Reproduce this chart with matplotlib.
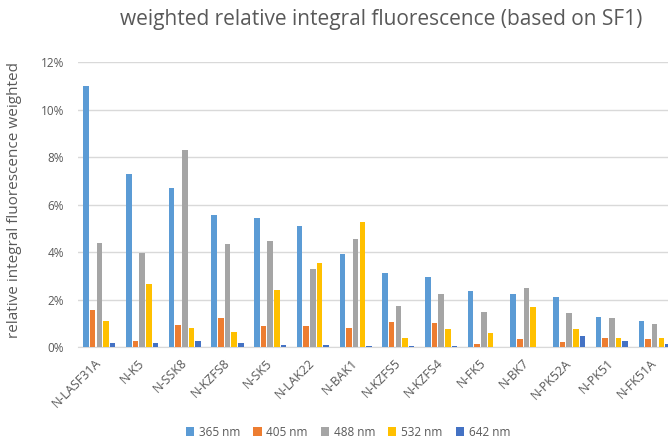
import matplotlib
matplotlib.use("Agg")
import matplotlib.pyplot as plt
import numpy as np
from matplotlib.ticker import FuncFormatter

categories = ["N-LASF31A", "N-K5", "N-SSK8", "N-KZFS8", "N-SK5", "N-LAK22", "N-BAK1",
              "N-KZFS5", "N-KZFS4", "N-FK5", "N-BK7", "N-PK52A", "N-PK51", "N-FK51A"]
series_names = ["365 nm", "405 nm", "488 nm", "532 nm", "642 nm"]
v365 = [11.0, 7.29, 6.72, 5.56, 5.44, 5.09, 3.91, 3.11, 2.95, 2.36, 2.23, 2.10, 1.28, 1.12]
v405 = [1.55, 0.25, 0.96, 1.22, 0.89, 0.90, 0.81, 1.08, 1.04, 0.13, 0.35, 0.22, 0.40, 0.35]
v488 = [4.39, 3.97, 8.31, 4.33, 4.46, 3.30, 4.55, 1.75, 2.24, 1.49, 2.50, 1.46, 1.25, 1.00]
v532 = [1.10, 2.67, 0.80, 0.66, 2.41, 3.56, 5.26, 0.39, 0.78, 0.59, 1.70, 0.78, 0.40, 0.39]
v642 = [0.19, 0.19, 0.25, 0.20, 0.08, 0.11, 0.07, 0.07, 0.04, 0.01, 0.03, 0.48, 0.28, 0.14]
colors = ["#5B9BD5", "#ED7D31", "#A5A5A5", "#FFC000", "#4472C4"]

plt.rcParams['font.family'] = ['Open Sans', 'DejaVu Sans']
txt = "#595959"

fig = plt.figure(figsize=(6.68, 4.41), dpi=100)
W, H = 668, 441
left, right = 78, 676
bottom_px, top_px = 347.3, 62.3
ax = fig.add_axes([left / W, (H - bottom_px) / H, (right - left) / W, (bottom_px - top_px) / H])

x = np.arange(len(categories))
pitch = 0.156
bw = 0.13
data = [v365, v405, v488, v532, v642]
for i, (vals, c, name) in enumerate(zip(data, colors, series_names)):
    ax.bar(x + (i - 2) * pitch, np.array(vals) / 100, width=bw, color=c, linewidth=0,
           label=name, zorder=3)

ax.set_xlim(-0.5, len(categories) - 0.5)
ax.set_ylim(0, 0.12)
ax.set_yticks(np.arange(0, 0.121, 0.02))
ax.yaxis.set_major_formatter(FuncFormatter(lambda v, p: f"{v*100:.0f}%"))
ax.grid(axis="y", color="#D9D9D9", linewidth=1.0, zorder=0)
for s in ["top", "right", "left"]:
    ax.spines[s].set_visible(False)
ax.spines["bottom"].set_color("#D9D9D9")
ax.tick_params(axis="both", length=0, colors=txt, labelsize=8.5)
ax.tick_params(axis="y", pad=10)
ax.set_xticks(x)
ax.set_xticklabels(categories, rotation=45, ha="right", va="center", rotation_mode="anchor")
ax.tick_params(axis="x", pad=10, labelsize=9)

fig.text(15 / W, 1 - 200 / H, "relative integral fluorescence weighted", rotation=90,
         ha="center", va="center", fontsize=11, color=txt)
fig.text(381 / W, 1 - 20 / H, "weighted relative integral fluorescence (based on SF1)",
         ha="center", va="center", fontsize=15, color=txt)

fig.legend(loc="center", bbox_to_anchor=(348 / W, 1 - 432 / H), ncol=5, frameon=False,
           fontsize=8.5, handlelength=0.7, handleheight=0.7, handletextpad=0.4,
           columnspacing=1.1, labelcolor=txt)

fig.savefig("out.png", dpi=100)
